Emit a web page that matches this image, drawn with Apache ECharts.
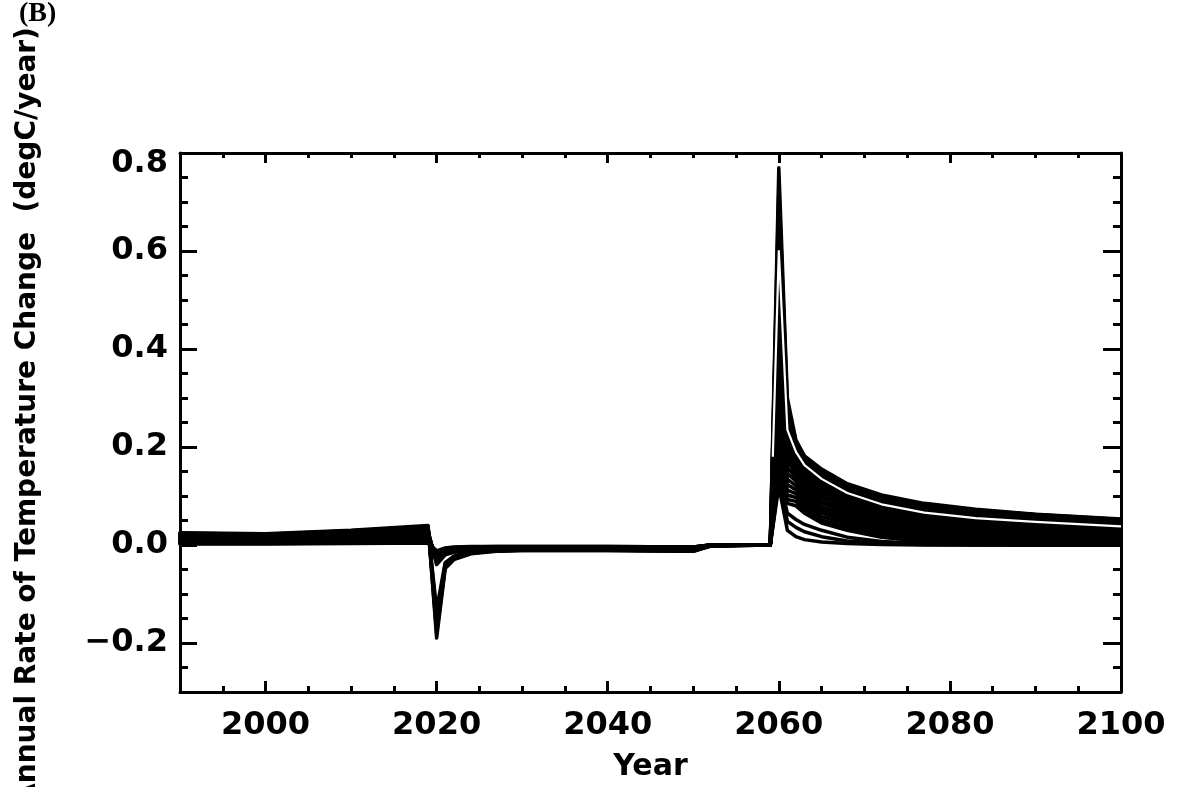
<!DOCTYPE html>
<html><head><meta charset="utf-8">
<script src="https://cdn.jsdelivr.net/npm/echarts@6/dist/echarts.min.js"></script>
<style>html,body{margin:0;padding:0;background:#fff}#c{width:1186px;height:787px}</style>
</head><body><div id="c"></div>
<script>
// Key years at which each ensemble run is sampled (straight segments between them)
const years = [1990, 2000, 2010, 2019, 2020, 2021, 2022, 2024, 2027, 2030, 2040, 2050, 2052, 2059,
               2060, 2061, 2062, 2063, 2065, 2068, 2072, 2077, 2083, 2090, 2100];

// Ensemble runs (degC/year), top-most to bottom-most
const run01 = [.025,.023,.030,.040, -.190,-.048,-.030,-.018,-.013,-.011,-.011,-.013,-.002,0, .77,.300,.214,.182,.155,.125,.102,.085,.073,.063,.053];
const run02 = [.024,.022,.029,.038, -.180,-.046,-.029,-.017,-.012,-.011,-.011,-.013,-.002,0, .73,.285,.212,.178,.151,.122,.099,.082,.071,.062,.052];
const run03 = [.023,.021,.027,.036, -.168,-.043,-.027,-.016,-.012,-.010,-.010,-.012,-.002,0, .69,.270,.204,.171,.145,.116,.094,.078,.067,.059,.049];
const run04 = [.021,.020,.026,.035, -.156,-.041,-.026,-.015,-.011,-.010,-.010,-.012,-.001,0, .64,.255,.195,.164,.138,.111,.088,.073,.062,.055,.046];
const run05 = [.020,.019,.025,.033, -.144,-.038,-.024,-.014,-.011,-.009,-.009,-.011,-.001,0, .59,.240,.187,.157,.131,.105,.083,.068,.058,.051,.042];
const run06 = [.019,.018,.023,.031, -.132,-.036,-.023,-.013,-.010,-.009,-.009,-.011,-.001,0, .54,.225,.179,.150,.125,.099,.078,.063,.054,.048,.039];
const run07 = [.018,.017,.022,.029, -.040,-.020,-.015,-.011,-.009,-.008,-.008,-.010,-.001,0, .49,.210,.171,.143,.118,.093,.073,.059,.050,.044,.036];
const run08 = [.017,.016,.020,.027, -.038,-.019,-.014,-.010,-.009,-.008,-.008,-.010,-.001,0, .45,.197,.163,.136,.111,.088,.068,.054,.046,.040,.033];
const run09 = [.016,.015,.019,.026, -.036,-.018,-.013,-.010,-.008,-.008,-.008,-.009,-.001,0, .41,.184,.154,.128,.105,.082,.063,.049,.042,.037,.030];
const run10 = [.015,.014,.018,.024, -.034,-.017,-.012,-.009,-.008,-.007,-.007,-.009,-.001,0, .37,.171,.146,.121,.098,.076,.057,.045,.037,.033,.027];
const run11 = [.013,.013,.016,.022, -.032,-.016,-.012,-.009,-.007,-.007,-.007,-.008,-.001,0, .33,.158,.138,.114,.091,.070,.052,.040,.033,.029,.024];
const run12 = [.012,.012,.015,.020, -.030,-.015,-.011,-.008,-.007,-.006,-.006,-.008,-.001,0, .29,.146,.130,.107,.085,.065,.047,.035,.029,.026,.021];
const run13 = [.011,.011,.014,.018, -.028,-.014,-.010,-.008,-.006,-.006,-.006,-.007,0,0,     .26,.134,.121,.100,.078,.059,.042,.031,.025,.022,.018];
const run14 = [.010,.009,.012,.017, -.026,-.013,-.009,-.007,-.006,-.005,-.005,-.007,0,0,     .23,.123,.113,.093,.071,.053,.037,.026,.021,.018,.014];
const run15 = [.009,.008,.011,.015, -.024,-.012,-.009,-.006,-.005,-.005,-.005,-.006,0,0,     .20,.112,.105,.086,.065,.047,.032,.021,.017,.014,.011];
const run16 = [.008,.007,.009,.013, -.022,-.011,-.008,-.006,-.005,-.005,-.005,-.006,0,0,     .18,.102,.097,.079,.058,.042,.026,.016,.012,.011,.008];
const run17 = [.007,.006,.008,.011, -.020,-.010,-.007,-.005,-.004,-.004,-.004,-.005,0,0,     .16,.093,.089,.072,.051,.036,.021,.012,.008,.007,.005];
const run18 = [.005,.005,.007,.009, -.018,-.009,-.006,-.005,-.004,-.004,-.004,-.005,0,0,     .145,.085,.080,.065,.045,.030,.016,.007,.004,.003,.002];
const run19 = [.004,.004,.005,.008, -.016,-.008,-.006,-.004,-.004,-.004,-.004,-.004,0,0,     .14,.065,.052,.042,.030,.016,.007,.003,.001,0,0];
const run20 = [.003,.003,.004,.006, -.014,-.007,-.005,-.004,-.003,-.003,-.003,-.004,0,0,     .13,.048,.036,.027,.017,.008,.003,.001,0,0,0];
const run21 = [.002,.002,.003,.004, -.012,-.006,-.004,-.003,-.003,-.003,-.003,-.004,0,0,     .12,.030,.017,.011,.006,.003,.001,0,0,0,0];

// The single white run drawn on top of the black ensemble
const whiteYears  = [2059.3, 2060, 2061, 2062, 2063, 2065, 2068, 2072, 2077, 2083, 2090, 2100];
const whiteValues = [.18, .60, .235, .190, .163, .135, .106, .083, .066, .055, .047, .038];

// Axis ticks / labels
const xMajorTicks = [2000, 2020, 2040, 2060, 2080, 2100];
const yMajorTicks = [-0.2, 0, 0.2, 0.4, 0.6, 0.8];

const runs = [run01, run02, run03, run04, run05, run06, run07, run08, run09, run10, run11,
              run12, run13, run14, run15, run16, run17, run18, run19, run20, run21];

const FONT = 'DejaVu Sans';
const chart = echarts.init(document.getElementById('c'), null, {renderer: 'canvas'});

const tickStyle = {color: '#000', width: 3};
const labelFont = {fontFamily: FONT, fontSize: 32, fontWeight: 'bold', color: '#000'};

function xAx(pos, showLine, opts) {
  return Object.assign({
    type: 'value', gridIndex: 0, position: pos, min: 1990, max: 2100,
    axisLine: {show: showLine, onZero: false, lineStyle: {color: '#000', width: 3}},
    splitLine: {show: false},
    axisLabel: {show: false},
  }, opts);
}
function yAx(pos, showLine, opts) {
  return Object.assign({
    type: 'value', gridIndex: 0, position: pos, min: -0.3, max: 0.8,
    axisLine: {show: showLine, onZero: false, lineStyle: {color: '#000', width: 3}},
    splitLine: {show: false},
    axisLabel: {show: false},
  }, opts);
}

const series = runs.map((r, k) => ({
  type: 'line', name: 'run' + (k + 1), xAxisIndex: 0, yAxisIndex: 0,
  data: years.map((y, i) => [y, r[i]]),
  symbol: 'none', silent: true, clip: true,
  lineStyle: {color: '#000', width: 3.5, join: 'round', cap: 'round'},
  z: 2
}));
series.push({
  type: 'line', name: 'white', xAxisIndex: 0, yAxisIndex: 0,
  data: whiteYears.map((y, i) => [y, whiteValues[i]]),
  symbol: 'none', silent: true, clip: true,
  lineStyle: {color: '#fff', width: 2.2, join: 'round'},
  z: 3
});

const option = {
  animation: false,
  backgroundColor: '#fff',
  grid: {left: 180, right: 65, top: 153, bottom: 93, containLabel: false},
  xAxis: [
    xAx('bottom', true, {
      interval: 5,
      axisTick: {show: true, inside: true, length: 6, lineStyle: tickStyle},
      axisLabel: Object.assign({
        show: true, margin: 18, showMinLabel: true, showMaxLabel: true,
        formatter: v => xMajorTicks.includes(Math.round(v)) ? String(Math.round(v)) : ''
      }, labelFont),
      name: 'Year', nameLocation: 'middle', nameGap: 60,
      nameTextStyle: {fontFamily: FONT, fontSize: 30, fontWeight: 'bold', color: '#000'}
    }),
    xAx('bottom', false, {
      axisTick: {show: true, inside: true, length: 11, lineStyle: tickStyle, customValues: xMajorTicks}
    }),
    xAx('top', true, {
      interval: 5,
      axisTick: {show: true, inside: true, length: 5, lineStyle: tickStyle}
    }),
    xAx('top', false, {
      axisTick: {show: true, inside: true, length: 10, lineStyle: tickStyle, customValues: xMajorTicks}
    })
  ],
  yAxis: [
    yAx('left', true, {
      interval: 0.05,
      axisTick: {show: true, inside: true, length: 8, lineStyle: tickStyle},
      axisLabel: Object.assign({
        show: true, margin: 12, showMinLabel: true, showMaxLabel: true,
        rich: {top: Object.assign({padding: [22, 0, 0, 0]}, labelFont)},
        formatter: v => {
          const k = Math.round(v * 100);
          const top = Math.round(yMajorTicks[yMajorTicks.length - 1] * 100);
          if (yMajorTicks.some(t => Math.round(t * 100) === k)) {
            const s = (k / 100).toFixed(1).replace('-', '\u2212');
            return k === top ? '{top|' + s + '}' : s;
          }
          return '';
        }
      }, labelFont)
    }),
    yAx('left', false, {
      axisTick: {show: true, inside: true, length: 17, lineStyle: tickStyle, customValues: yMajorTicks}
    }),
    yAx('right', true, {
      interval: 0.05,
      axisTick: {show: true, inside: true, length: 8, lineStyle: tickStyle}
    }),
    yAx('right', false, {
      axisTick: {show: true, inside: true, length: 18, lineStyle: tickStyle, customValues: yMajorTicks}
    })
  ],
  graphic: [
    {
      type: 'text', x: 28, y: 416, rotation: Math.PI / 2, silent: true,
      style: {
        text: 'Annual Rate of Temperature Change  (degC/year)',
        font: 'bold 28px "DejaVu Sans"', fill: '#000',
        textAlign: 'center', textVerticalAlign: 'middle'
      }
    },
    {
      type: 'text', left: 19, top: 0, silent: true,
      style: {text: '(B)', font: 'bold 28px "Liberation Serif"', fill: '#000'}
    }
  ],
  series: series
};
chart.setOption(option);
</script>
</body></html>
